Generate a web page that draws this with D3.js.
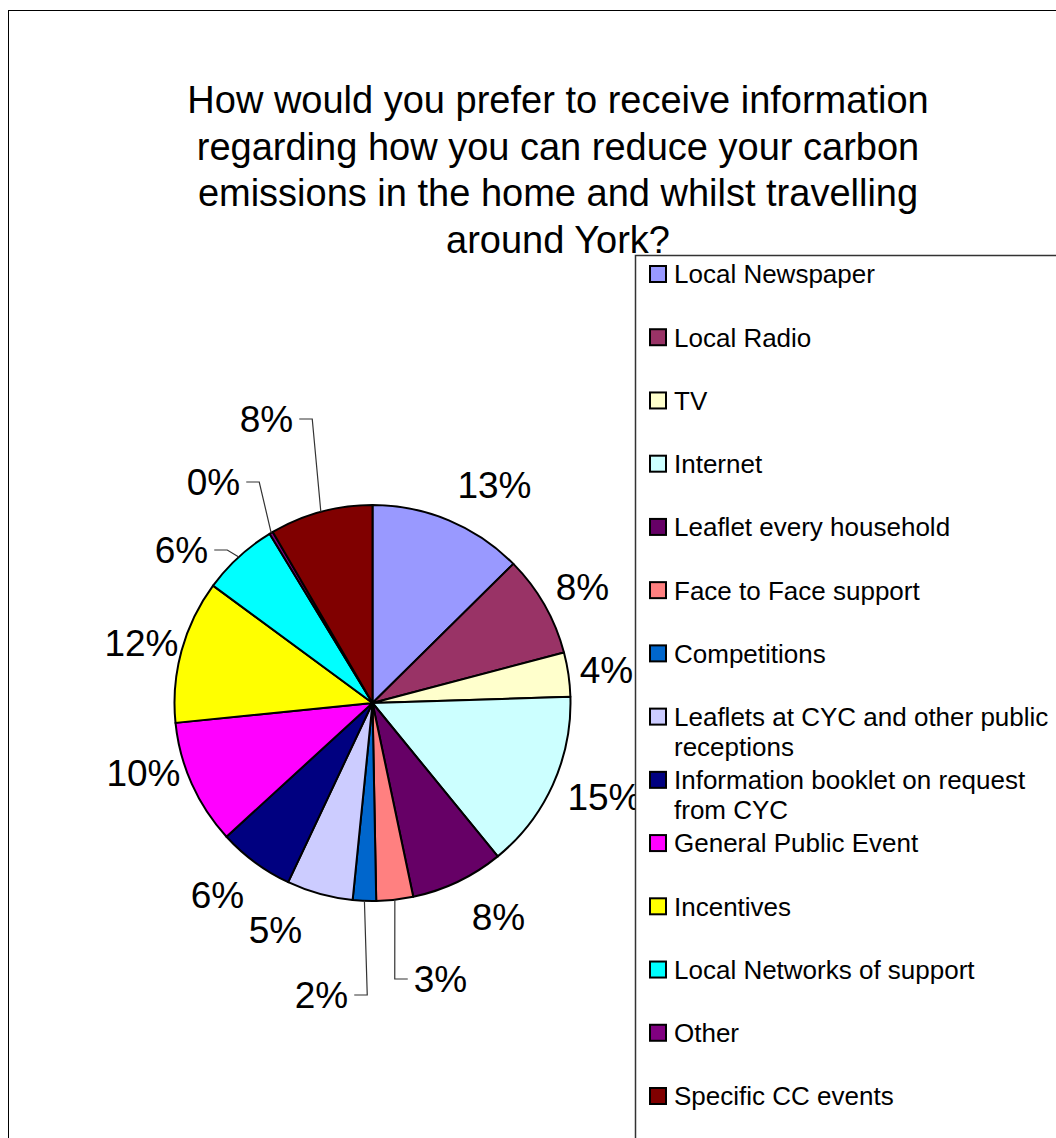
<!DOCTYPE html>
<html>
<head>
<meta charset="utf-8">
<script src="https://cdn.jsdelivr.net/npm/d3@7/dist/d3.min.js"></script>
<style>
  html, body { margin: 0; padding: 0; background: #fff; }
  svg { display: block; }
</style>
</head>
<body>
<script>
// Survey answers: preferred channel for carbon-reduction information (share of responses, %)
const categories = [
  "Local Newspaper",
  "Local Radio",
  "TV",
  "Internet",
  "Leaflet every household",
  "Face to Face support",
  "Competitions",
  "Leaflets at CYC and other public receptions",
  "Information booklet on request from CYC",
  "General Public Event",
  "Incentives",
  "Local Networks of support",
  "Other",
  "Specific CC events"
];
const shares = [12.6, 8.3, 3.6, 14.6, 7.6, 3.0, 1.9, 5.4, 6.2, 10.2, 11.7, 6.2, 0.3, 8.4];
const sliceColors = [
  "#9999FF", "#993366", "#FFFFCC", "#CCFFFF", "#660066", "#FF8080", "#0066CC",
  "#CCCCFF", "#000080", "#FF00FF", "#FFFF00", "#00FFFF", "#800080", "#800000"
];
const titleLines = [
  "How would you prefer to receive information",
  "regarding how you can reduce your carbon",
  "emissions in the home and whilst travelling",
  "around York?"
];

const W = 1056, H = 1138;
const FONT = "'Liberation Sans', Arial, Helvetica, sans-serif";

const data = categories.map((c, i) => ({ name: c, value: shares[i], color: sliceColors[i] }));
const total = d3.sum(shares);
const pct = v => Math.round(v / total * 100) + "%";

const svg = d3.select("body").append("svg")
  .attr("width", W).attr("height", H)
  .style("font-family", FONT);

// chart area frame
svg.append("rect")
  .attr("x", 8.5).attr("y", 10.5)
  .attr("width", 1200).attr("height", 1300)
  .attr("fill", "#fff").attr("stroke", "#000").attr("stroke-width", 1);

// title
svg.append("g").selectAll("text")
  .data(titleLines)
  .join("text")
  .attr("x", 558)
  .attr("y", (d, i) => 113 + i * 46.5)
  .attr("text-anchor", "middle")
  .attr("font-size", 38)
  .attr("fill", "#000")
  .text(d => d);

// pie
const cx = 372.5, cy = 703, R = 198;
const pie = d3.pie().sort(null).value(d => d.value);
const arcs = pie(data);
const arcGen = d3.arc().innerRadius(0).outerRadius(R);

const pg = svg.append("g").attr("transform", `translate(${cx},${cy})`);
pg.selectAll("path.slice")
  .data(arcs)
  .join("path")
  .attr("class", "slice")
  .attr("d", arcGen)
  .attr("fill", d => d.data.color)
  .attr("stroke", "#000")
  .attr("stroke-width", 2)
  .attr("stroke-linejoin", "round");

// data-label placement relative to the pie centre; "leader" marks labels pulled
// away from their slice and joined to it with an elbow line
const labelPlacement = [
  { dx: 122, dy: -218 },
  { dx: 210, dy: -116 },
  { dx: 234, dy: -33 },
  { dx: 232, dy: 94 },
  { dx: 126, dy: 214 },
  { dx: 68, dy: 276, leader: true },
  { dx: -51, dy: 292, leader: true },
  { dx: -97, dy: 227 },
  { dx: -155, dy: 192 },
  { dx: -229, dy: 70 },
  { dx: -231, dy: -60 },
  { dx: -191, dy: -153, leader: true },
  { dx: -159, dy: -221, leader: true },
  { dx: -106, dy: -284, leader: true }
];

const LABEL_SIZE = 37;
const lg = pg.append("g");
arcs.forEach((a, i) => {
  const p = labelPlacement[i];
  const t = lg.append("text")
    .attr("x", p.dx)
    .attr("y", p.dy + LABEL_SIZE * 0.358)
    .attr("text-anchor", "middle")
    .attr("font-size", LABEL_SIZE)
    .attr("fill", "#000")
    .text(pct(a.data.value));
  if (p.leader) {
    const w = t.node().getComputedTextLength();
    const mid = (a.startAngle + a.endAngle) / 2;
    const ax = R * Math.sin(mid), ay = -R * Math.cos(mid);
    const right = p.dx > ax;
    const endX = right ? p.dx - w / 2 - 6 : p.dx + w / 2 + 6;
    const elbowX = right ? endX - 13 : endX + 13;
    lg.append("path")
      .attr("d", d3.line()([[ax, ay], [elbowX, p.dy], [endX, p.dy]]))
      .attr("fill", "none")
      .attr("stroke", "#333")
      .attr("stroke-width", 1.2);
  }
});

// legend
const legend = svg.append("g");
legend.append("rect")
  .attr("x", 635.5).attr("y", 255.5)
  .attr("width", 600).attr("height", 1000)
  .attr("fill", "#fff").attr("stroke", "#333").attr("stroke-width", 1.5);

const rowY = d3.scaleLinear().domain([0, categories.length - 1]).range([274, 1096]);
const LEG_SIZE = 26, MAX_W = 395;

data.forEach((d, i) => {
  const y = rowY(i);
  legend.append("rect")
    .attr("x", 650).attr("y", y - 8)
    .attr("width", 16).attr("height", 16)
    .attr("fill", d.color).attr("stroke", "#000").attr("stroke-width", 2);

  const t = legend.append("text")
    .attr("x", 674).attr("y", y + LEG_SIZE * 0.36)
    .attr("font-size", LEG_SIZE).attr("fill", "#000");
  // word-wrap long entries onto a second line
  const words = d.name.split(" ");
  let line = [], lineNo = 0;
  let ts = t.append("tspan").attr("x", 674).attr("dy", 0);
  words.forEach(wd => {
    line.push(wd);
    ts.text(line.join(" "));
    if (ts.node().getComputedTextLength() > MAX_W && line.length > 1) {
      line.pop();
      ts.text(line.join(" "));
      line = [wd];
      lineNo++;
      ts = t.append("tspan").attr("x", 674).attr("dy", 30).text(wd);
    }
  });
});
</script>
</body>
</html>
